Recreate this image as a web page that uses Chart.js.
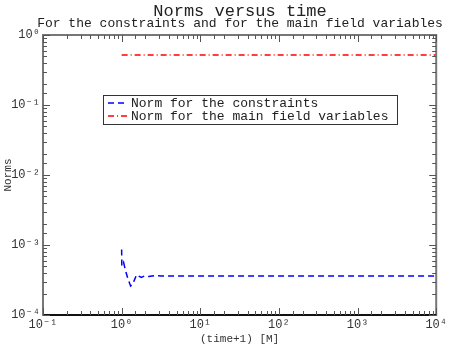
<!DOCTYPE html>
<html>
<head>
<meta charset="utf-8">
<script src="https://cdn.jsdelivr.net/npm/chart.js@4"></script>
<style>
  html, body { margin: 0; padding: 0; background: #fff; }
  #wrap { width: 450px; height: 346px; }
</style>
</head>
<body>
<div id="wrap"><canvas id="normsChart" width="450" height="346"></canvas></div>
<script>
// data: x is (time+1) in M
var constraintTimes = [1.0, 1.005, 1.02, 1.06, 1.12, 1.2, 1.3, 1.38, 1.46, 1.55, 1.65, 1.78, 1.95, 2.2, 2.6, 3.2, 5, 10, 100, 1000, 10000];
var constraintNorm  = [8.6e-4, 5.2e-4, 5.0e-4, 5.6e-4, 4.3e-4, 3.3e-4, 2.6e-4, 2.75e-4, 3.2e-4, 3.75e-4, 3.6e-4, 3.45e-4, 3.6e-4, 3.55e-4, 3.65e-4, 3.6e-4, 3.62e-4, 3.62e-4, 3.62e-4, 3.62e-4, 3.62e-4];
var fieldTimes = [1, 10, 100, 1000, 10000];
var fieldNorm  = [0.52, 0.52, 0.52, 0.52, 0.52];
var seriesLabels = ['Norm for the constraints', 'Norm for the main field variables'];
var xRange = [0.1, 10000];
var yRange = [1e-4, 1];

var MONO = '"Liberation Mono", "DejaVu Sans Mono", monospace';

function toPoints(xs, ys) {
    return xs.map(function(x, i) { return { x: x, y: ys[i] }; });
}
function isDecade(v) {
    var lg = Math.log10(v);
    return Math.abs(lg - Math.round(lg)) < 1e-6;
}
var SUP = { '-': '\u207B', '0': '\u2070', '1': '\u00B9', '2': '\u00B2', '3': '\u00B3', '4': '\u2074' };
function powLabel(v) {
    if (!isDecade(v)) return '';
    var e = String(Math.round(Math.log10(v)));
    return '10' + e.split('').map(function(c) { return SUP[c]; }).join('');
}

// titles, frame with inward ticks, and legend inside the plot
var decorPlugin = {
    id: 'decor',
    afterDraw: function(chart) {
        var ctx = chart.ctx;
        var a = chart.chartArea;
        ctx.save();
        ctx.fillStyle = '#222';
        ctx.textAlign = 'center';
        ctx.textBaseline = 'middle';
        ctx.font = '17px ' + MONO;
        ctx.fillText('Norms versus time', 240, 11);
        ctx.font = '13px ' + MONO;
        ctx.fillText('For the constraints and for the main field variables', 240, 24);

        // frame
        ctx.strokeStyle = '#777';
        ctx.lineWidth = 2;
        ctx.strokeRect(a.left, a.top, a.right - a.left, a.bottom - a.top);
        ctx.strokeStyle = '#111';
        ctx.beginPath();
        ctx.moveTo(a.left, a.bottom);
        ctx.lineTo(a.right, a.bottom);
        ctx.stroke();

        // inward ticks
        ctx.lineWidth = 1;
        ctx.strokeStyle = '#555';
        var xs = chart.scales.x, ys = chart.scales.y;
        xs.ticks.forEach(function(t) {
            var px = Math.round(xs.getPixelForValue(t.value)) + 0.5;
            var len = isDecade(t.value) ? 7 : 4;
            ctx.beginPath();
            ctx.moveTo(px, a.bottom); ctx.lineTo(px, a.bottom - len);
            ctx.moveTo(px, a.top); ctx.lineTo(px, a.top + len);
            ctx.stroke();
        });
        ys.ticks.forEach(function(t) {
            var py = Math.round(ys.getPixelForValue(t.value)) + 0.5;
            var len = isDecade(t.value) ? 7 : 4;
            ctx.beginPath();
            ctx.moveTo(a.left, py); ctx.lineTo(a.left + len, py);
            ctx.moveTo(a.right, py); ctx.lineTo(a.right - len, py);
            ctx.stroke();
        });

        // legend box
        var bx = 103, by = 95, bw = 294, bh = 29;
        ctx.fillStyle = '#fff';
        ctx.fillRect(bx, by, bw, bh);
        ctx.strokeStyle = '#333';
        ctx.strokeRect(bx + 0.5, by + 0.5, bw, bh);
        ctx.font = '13px ' + MONO;
        ctx.textAlign = 'left';
        chart.data.datasets.forEach(function(ds, i) {
            var y = by + 8 + i * 13;
            ctx.strokeStyle = ds.borderColor;
            ctx.lineWidth = 1.5;
            ctx.setLineDash(ds.borderDash);
            ctx.beginPath();
            ctx.moveTo(bx + 5, y); ctx.lineTo(bx + 24, y);
            ctx.stroke();
            ctx.setLineDash([]);
            ctx.fillStyle = '#222';
            ctx.fillText(ds.label, bx + 28, y + 1);
        });
        ctx.restore();
    }
};

var normsCtx = document.getElementById('normsChart').getContext('2d');
var normsChart = new Chart(normsCtx, {
    type: 'line',
    data: {
        datasets: [
            {
                label: seriesLabels[0],
                data: toPoints(constraintTimes, constraintNorm),
                borderColor: '#0000ff',
                borderWidth: 1.5,
                borderDash: [6, 4],
                pointRadius: 0,
                fill: false,
                tension: 0
            },
            {
                label: seriesLabels[1],
                data: toPoints(fieldTimes, fieldNorm),
                borderColor: '#ff0000',
                borderWidth: 1.5,
                borderDash: [6, 3, 1, 3],
                pointRadius: 0,
                fill: false,
                tension: 0
            }
        ]
    },
    options: {
        responsive: false,
        animation: false,
        layout: { padding: { left: 0, top: 35, right: 13, bottom: 0 } },
        plugins: {
            legend: { display: false },
            tooltip: { enabled: false }
        },
        scales: {
            x: {
                type: 'logarithmic',
                min: xRange[0],
                max: xRange[1],
                grid: { display: false, drawTicks: false },
                border: { display: false },
                ticks: {
                    autoSkip: false,
                    maxRotation: 0,
                    padding: 3,
                    color: '#333',
                    font: { family: MONO, size: 12 },
                    callback: function(v) { return powLabel(v); }
                },
                title: {
                    display: true,
                    text: '(time+1) [M]',
                    color: '#333',
                    padding: 0,
                    font: { family: MONO, size: 11 }
                },
                afterFit: function(s) { s.height = 31; }
            },
            y: {
                type: 'logarithmic',
                min: yRange[0],
                max: yRange[1],
                grid: { display: false, drawTicks: false },
                border: { display: false },
                ticks: {
                    autoSkip: false,
                    padding: 3,
                    color: '#333',
                    font: { family: MONO, size: 12 },
                    callback: function(v) { return powLabel(v); }
                },
                title: {
                    display: true,
                    text: 'Norms',
                    color: '#333',
                    padding: 1,
                    font: { family: MONO, size: 11 }
                },
                afterFit: function(s) { s.width = 43; }
            }
        }
    },
    plugins: [decorPlugin]
});
</script>
</body>
</html>
